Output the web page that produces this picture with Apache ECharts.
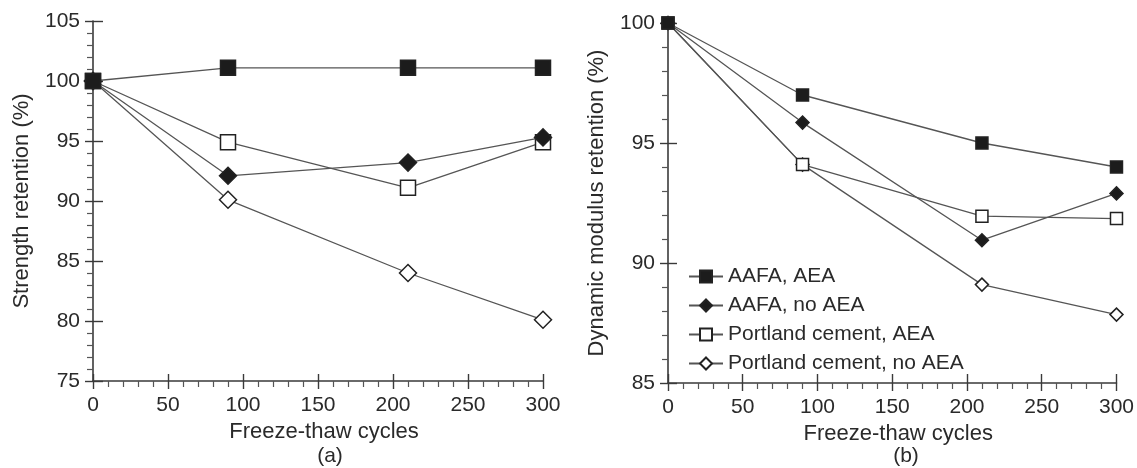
<!DOCTYPE html>
<html><head><meta charset="utf-8">
<script src="https://cdn.jsdelivr.net/npm/echarts@6/dist/echarts.min.js"></script>
<style>html,body{margin:0;padding:0;background:#fff}#c{width:1137px;height:468px}</style>
</head><body><div id="c"></div>
<script>
const cycles = [0, 90, 210, 300];
const seriesNames = ['AAFA, AEA', 'AAFA, no AEA', 'Portland cement, AEA', 'Portland cement, no AEA'];
// (a) Strength retention (%)
const strengthAAFA_AEA = [100, 101.1, 101.1, 101.1];
const strengthAAFA_noAEA = [100, 92.1, 93.2, 95.3];
const strengthPC_AEA = [100, 94.9, 91.1, 94.9];
const strengthPC_noAEA = [100, 90.1, 84.0, 80.1];
// (b) Dynamic modulus retention (%)
const modulusAAFA_AEA = [100, 97.0, 95.0, 94.0];
const modulusAAFA_noAEA = [100, 95.85, 90.95, 92.9];
const modulusPC_AEA = [100, 94.1, 91.95, 91.85];
const modulusPC_noAEA = [100, 94.1, 89.1, 87.85];
const panelLabels = ['(a)', '(b)'];
const xName = 'Freeze-thaw cycles';
const yNames = ['Strength retention (%)', 'Dynamic modulus retention (%)'];

const FONT = 'Liberation Sans, Arial, sans-serif';
const TXT = '#2a2a2a';
const AX = '#3a3a3a';
const styles = [
  {symbol: 'rect', fill: '#1c1c1c'},
  {symbol: 'diamond', fill: '#1c1c1c'},
  {symbol: 'rect', fill: '#ffffff'},
  {symbol: 'diamond', fill: '#ffffff'}
];
function pair(arr) { return cycles.map((c, i) => [c, arr[i]]); }
function mkSeries(idx, arr, gi, sqSize, diaSize) {
  const st = styles[idx];
  return {
    type: 'line', name: seriesNames[idx], xAxisIndex: gi * 2, yAxisIndex: gi * 2,
    data: pair(arr), symbol: st.symbol,
    symbolSize: st.symbol === 'rect' ? sqSize : diaSize,
    showAllSymbol: true,
    lineStyle: {color: '#555', width: 1.3},
    itemStyle: {color: st.fill, borderColor: '#222', borderWidth: 1.5, opacity: 1},
    emphasis: {disabled: true}, animation: false, z: 3 + (3 - idx)
  };
}
function xAxes(gi) {
  const base = {gridIndex: gi, type: 'value', min: 0, max: 300, interval: 50, position: 'bottom', splitLine: {show: false}};
  return [
    Object.assign({}, base, {
      name: xName, nameLocation: 'middle', nameGap: 39,
      nameTextStyle: {fontFamily: FONT, fontSize: 22, color: TXT, padding: [0, 0, 0, 12]},
      axisLine: {onZero: false, lineStyle: {color: AX, width: 1.6}},
      axisTick: {show: true, inside: false, length: 8, lineStyle: {color: AX, width: 1.4}},
      minorTick: {show: true, splitNumber: 5, length: 6, lineStyle: {color: '#555', width: 1.2}},
      axisLabel: {fontFamily: FONT, fontSize: 21, color: TXT, margin: 14}
    }),
    Object.assign({}, base, {
      axisLine: {show: false, onZero: false},
      axisTick: {show: true, inside: true, length: gi === 0 ? 7 : 9, lineStyle: {color: AX, width: 1.4}},
      minorTick: {show: false}, axisLabel: {show: false}
    })
  ];
}
function yAxes(gi, min, max) {
  const base = {gridIndex: gi, type: 'value', min: min, max: max, interval: 5, position: 'left', splitLine: {show: false}};
  return [
    Object.assign({}, base, {
      name: yNames[gi], nameLocation: 'middle', nameRotate: 90, nameGap: gi === 0 ? 60 : 60,
      nameTextStyle: {fontFamily: FONT, fontSize: 22, color: TXT},
      axisLine: {onZero: false, lineStyle: {color: AX, width: 1.6}},
      axisTick: {show: true, inside: false, length: 8, lineStyle: {color: AX, width: 1.4}},
      minorTick: {show: true, splitNumber: 5, length: 6, lineStyle: {color: '#555', width: 1.2}},
      axisLabel: {fontFamily: FONT, fontSize: 21, color: TXT, margin: 13}
    }),
    Object.assign({}, base, {
      axisLine: {show: false, onZero: false},
      axisTick: {show: true, inside: true, length: gi === 0 ? 10 : 9, lineStyle: {color: AX, width: 1.4}},
      minorTick: {show: false}, axisLabel: {show: false}
    })
  ];
}

const chart = echarts.init(document.getElementById('c'), null, {renderer: 'canvas'});
chart.setOption({
  animation: false,
  backgroundColor: '#fff',
  title: [
    {text: panelLabels[0], left: 325, top: 441, textAlign: 'center', textStyle: {fontFamily: FONT, fontSize: 21, fontWeight: 'normal', color: TXT}},
    {text: panelLabels[1], left: 901, top: 441, textAlign: 'center', textStyle: {fontFamily: FONT, fontSize: 21, fontWeight: 'normal', color: TXT}}
  ],
  grid: [
    {left: 93, right: 594, top: 21, bottom: 87},
    {left: 668, right: 18, top: 23, bottom: 85}
  ],
  xAxis: xAxes(0).concat(xAxes(1)),
  yAxis: yAxes(0, 75, 105).concat(yAxes(1, 85, 100)),
  legend: {
    orient: 'vertical', left: 683, top: 261, itemWidth: 34, itemHeight: 15, itemGap: 8,
    selectedMode: false,
    data: seriesNames,
    textStyle: {fontFamily: FONT, fontSize: 21, color: TXT, lineHeight: 21}
  },
  series: [
    mkSeries(0, strengthAAFA_AEA, 0, 15, 17),
    mkSeries(1, strengthAAFA_noAEA, 0, 15, 17),
    mkSeries(2, strengthPC_AEA, 0, 15, 17),
    mkSeries(3, strengthPC_noAEA, 0, 15, 17),
    mkSeries(0, modulusAAFA_AEA, 1, 12, 13),
    mkSeries(1, modulusAAFA_noAEA, 1, 12, 13),
    mkSeries(2, modulusPC_AEA, 1, 12, 13),
    mkSeries(3, modulusPC_noAEA, 1, 12, 13)
  ]
});
</script></body></html>
